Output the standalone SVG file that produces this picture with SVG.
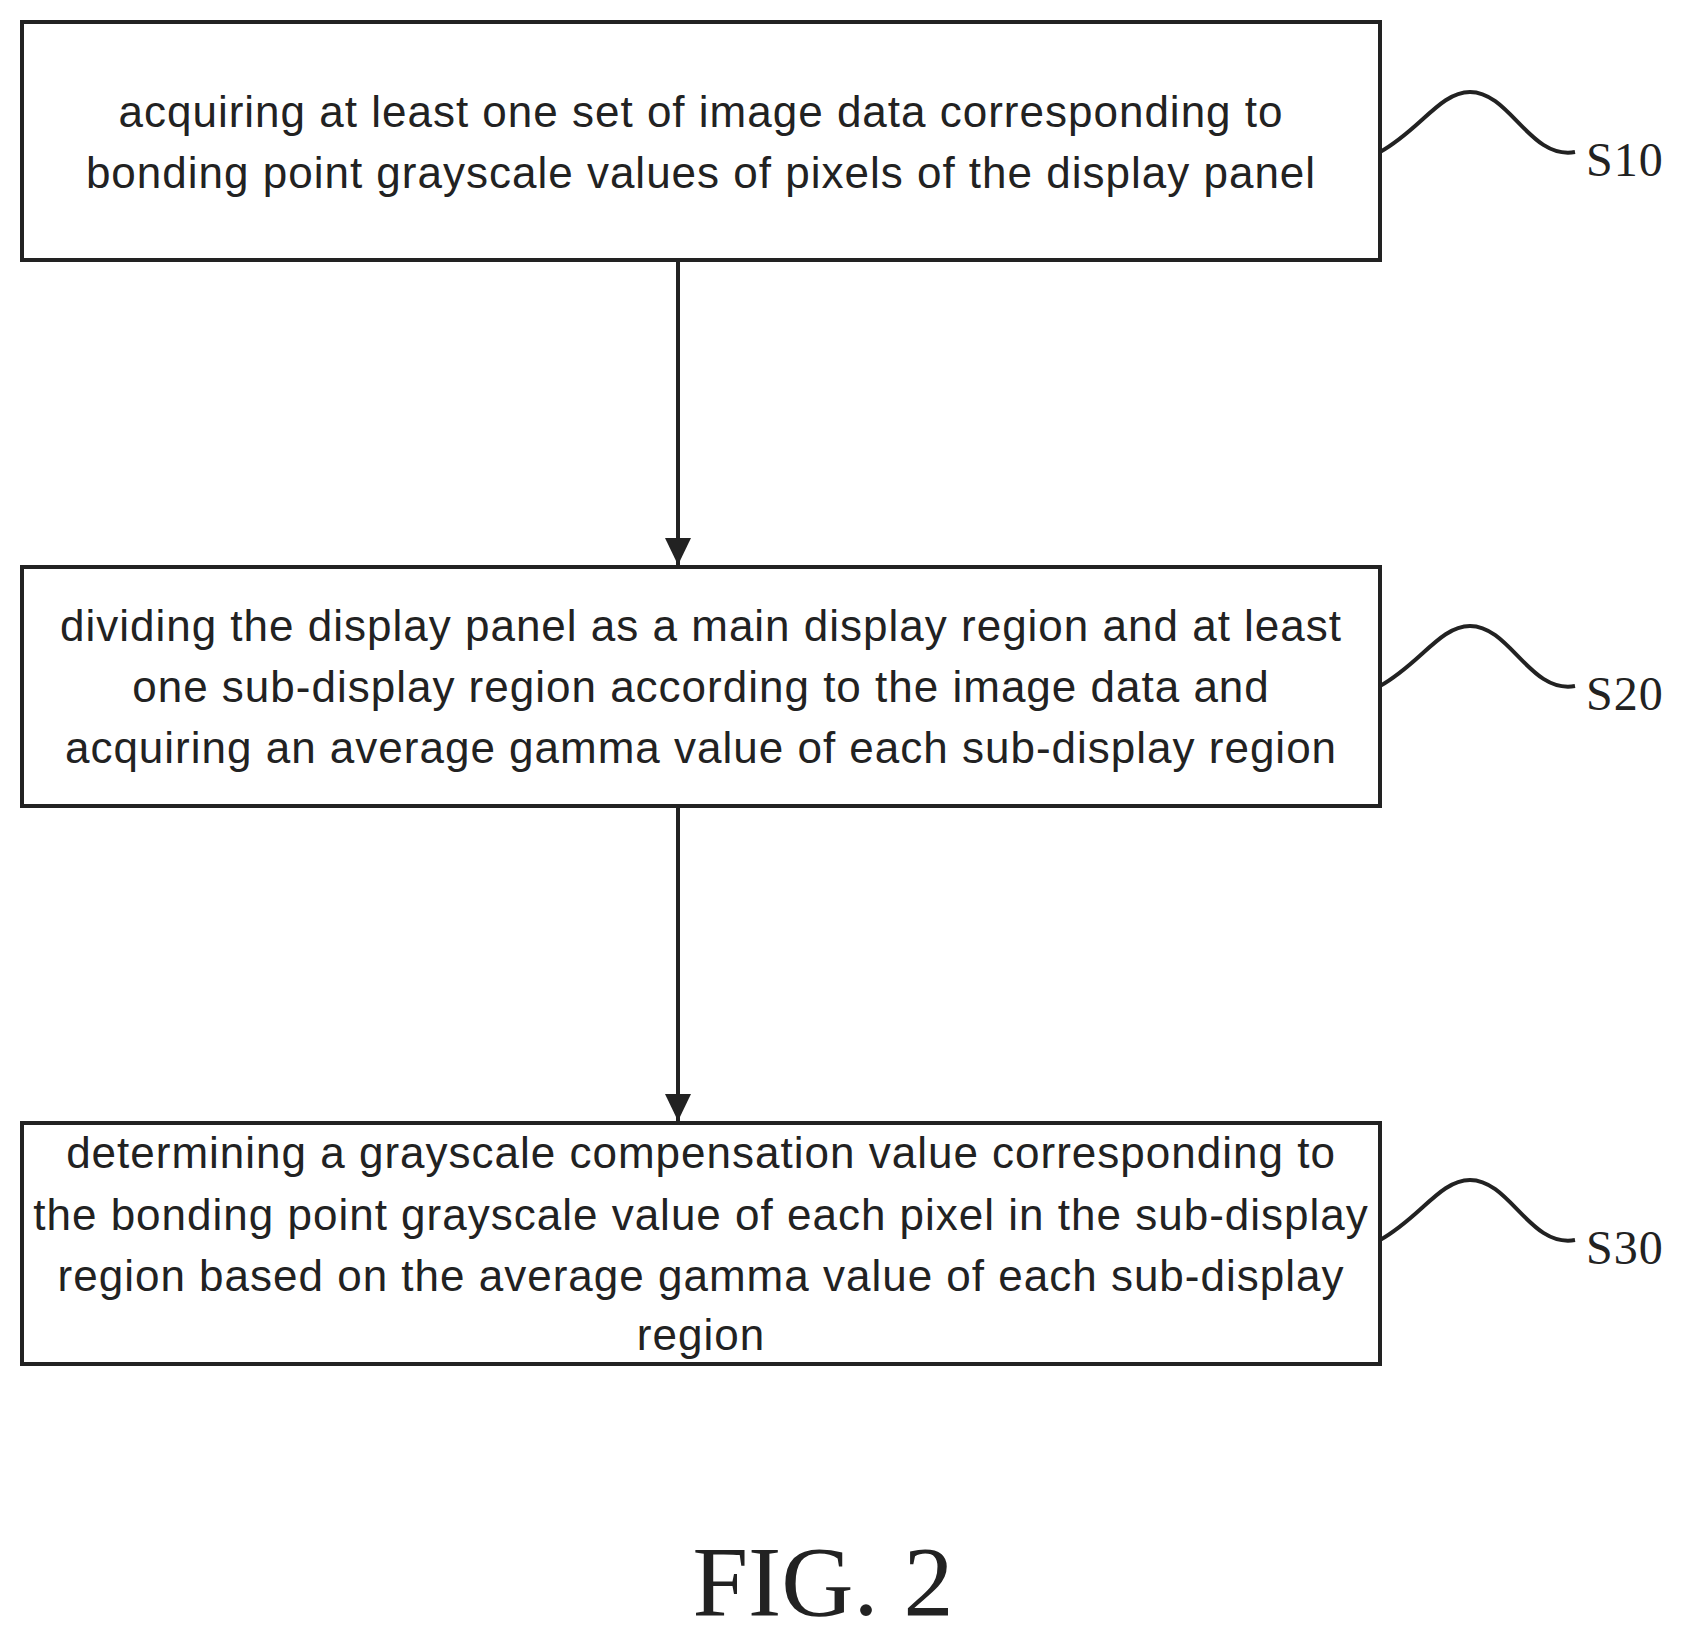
<svg xmlns="http://www.w3.org/2000/svg" width="1689" height="1637" viewBox="0 0 1689 1637">
<defs>
<style>
.box{fill:#fff;stroke:#222;stroke-width:4}
.t{font-family:"Liberation Sans",Arial,sans-serif;font-size:44px;letter-spacing:1px;fill:#222;text-anchor:middle}
.lbl{font-family:"Liberation Serif","Times New Roman",serif;font-size:48px;letter-spacing:1px;fill:#222}
.w{fill:none;stroke:#222;stroke-width:4}
</style>
</defs>
<rect width="1689" height="1637" fill="#fff"/>
<g id="connectors">
<line x1="678" y1="260" x2="678" y2="565" stroke="#222" stroke-width="4"/>
<path d="M665,538 L691,538 L678,565 Z" fill="#222"/>
<line x1="678" y1="806" x2="678" y2="1121" stroke="#222" stroke-width="4"/>
<path d="M665,1094 L691,1094 L678,1121 Z" fill="#222"/>
</g>
<g id="S10">
<rect class="box" x="22" y="22" width="1358" height="238"/>
<text class="t" x="701" y="127">acquiring at least one set of image data corresponding to</text>
<text class="t" x="701" y="188">bonding point grayscale values of pixels of the display panel</text>
<path class="w" d="M1380,152 C1420,130 1440,92 1470,92 C1510,92 1530,160 1575,152"/>
<text class="lbl" x="1586" y="176">S10</text>
</g>
<g id="S20">
<rect class="box" x="22" y="567" width="1358" height="239"/>
<text class="t" x="701" y="641">dividing the display panel as a main display region and at least</text>
<text class="t" x="701" y="702">one sub-display region according to the image data and</text>
<text class="t" x="701" y="763">acquiring an average gamma value of each sub-display region</text>
<path class="w" d="M1380,686 C1420,664 1440,626 1470,626 C1510,626 1530,694 1575,686"/>
<text class="lbl" x="1586" y="710">S20</text>
</g>
<g id="S30">
<rect class="box" x="22" y="1123" width="1358" height="241"/>
<text class="t" x="701" y="1168">determining a grayscale compensation value corresponding to</text>
<text class="t" x="701" y="1230">the bonding point grayscale value of each pixel in the sub-display</text>
<text class="t" x="701" y="1291">region based on the average gamma value of each sub-display</text>
<text class="t" x="701" y="1350">region</text>
<path class="w" d="M1380,1240 C1420,1218 1440,1180 1470,1180 C1510,1180 1530,1248 1575,1240"/>
<text class="lbl" x="1586" y="1264">S30</text>
</g>
<text x="823" y="1615" font-family="'Liberation Serif','Times New Roman',serif" font-size="100" fill="#222" text-anchor="middle">FIG. 2</text>
</svg>
